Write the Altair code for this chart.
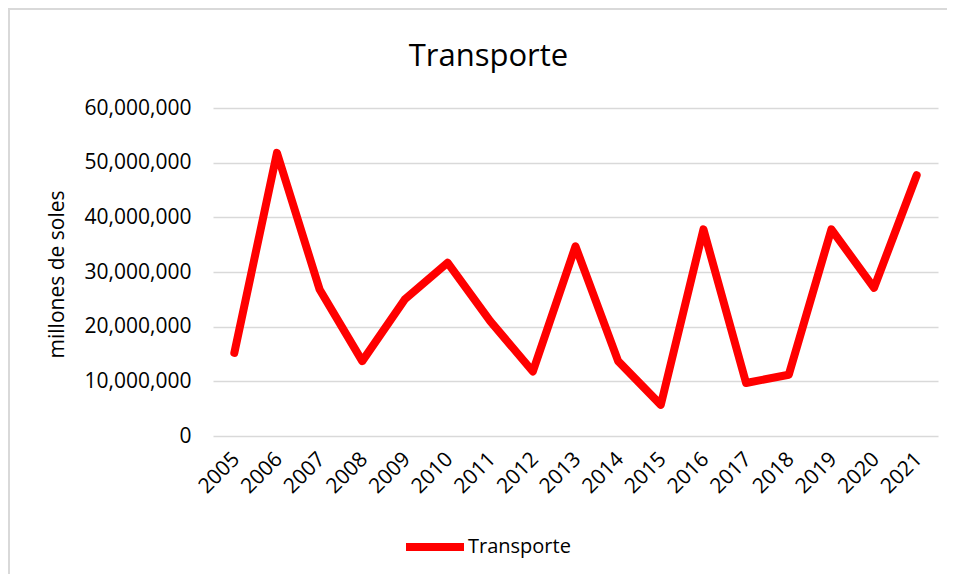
import altair as alt
import pandas as pd

years = [str(y) for y in range(2005, 2022)]
values = [15200000, 51800000, 26800000, 13700000, 25000000, 31700000, 21000000,
          11800000, 34700000, 13700000, 5700000, 37800000, 9700000, 11200000,
          37800000, 27100000, 47700000]
series = ["Transporte"] * len(years)

df = pd.DataFrame({"year": years, "value": values, "serie": series})

FONT = "Open Sans"

line = alt.Chart(df).mark_line(
    strokeWidth=8, strokeCap="round", strokeJoin="round"
).encode(
    x=alt.X("year:O", scale=alt.Scale(type="point", padding=0.5),
            axis=alt.Axis(title=None, labelAngle=-45, domain=False, ticks=False,
                          labelPadding=12, labelFontSize=21, labelColor="#000000",
                          labelFont=FONT, labelOffset=-6)),
    y=alt.Y("value:Q", scale=alt.Scale(domain=[0, 60000000]),
            axis=alt.Axis(title="millones de soles", values=list(range(0, 60000001, 10000000)),
                          format=",d", domain=False, ticks=False, labelPadding=22,
                          labelFontSize=21, labelColor="#000000", labelFont=FONT,
                          titleFontSize=21, titleFont=FONT, titleFontWeight="normal",
                          titleColor="#000000", titleX=-146, titleY=166,
                          gridColor="#d9d9d9", gridWidth=1.5)),
    color=alt.Color("serie:N", scale=alt.Scale(range=["#ff0000"]),
                    legend=alt.Legend(title=None, orient="none", legendX=189, legendY=406,
                                      symbolType="stroke", symbolSize=3364,
                                      symbolStrokeWidth=8, labelFontSize=20,
                                      labelFont=FONT, labelColor="#000000",
                                      labelOffset=0)),
)

border = alt.Chart(df).mark_rect(
    fill=None, stroke="#d9d9d9", strokeWidth=1.5, clip=False
).encode(
    x=alt.value(-204), x2=alt.value(800), y=alt.value(-99), y2=alt.value(500)
)

chart = alt.layer(border, line).properties(
    width=725, height=328,
    padding={"left": 205, "top": 100, "right": 9, "bottom": 138},
    autosize=alt.AutoSizeParams(type="none"),
    title=alt.TitleParams("Transporte", fontSize=31, font=FONT, fontWeight="normal",
                          color="#000000", anchor="middle", frame="group",
                          baseline="alphabetic", dx=-87, offset=-89),
).configure_view(stroke=None)

chart.save("out.html", embed_options={"renderer": "svg", "actions": False})
